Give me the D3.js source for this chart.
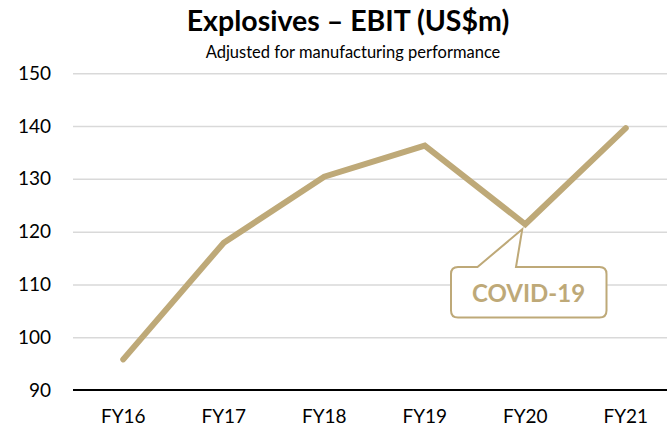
<!DOCTYPE html>
<html><head><meta charset="utf-8">
<script src="https://cdn.jsdelivr.net/npm/d3@7"></script>
<style>html,body{margin:0;padding:0;background:#fff;overflow:hidden}</style>
</head><body>
<script>
const categories = ["FY16","FY17","FY18","FY19","FY20","FY21"];
const ebit = [95.8, 117.9, 130.4, 136.3, 121.4, 139.6];
const yTicks = [90,100,110,120,130,140,150];
const titleText = "Explosives – EBIT (US$m)";
const subtitleText = "Adjusted for manufacturing performance";
const calloutText = "COVID-19";
const calloutCategory = "FY20";

const W = 667, H = 432;
const gold = "#bea978";
const font = "Lato, 'Open Sans', sans-serif";
const svg = d3.select("body").append("svg").attr("width", W).attr("height", H);

const x = d3.scaleBand().domain(categories).range([73, 676]);
const y = d3.scaleLinear().domain([90, 150]).range([390, 73.3]);

// gridlines
const grid = d3.axisLeft(y).tickValues(yTicks.filter(t => t !== 90)).tickSize(-(W - 73)).tickFormat("");
svg.append("g").attr("transform", "translate(73,0)").call(grid)
  .call(g => g.select(".domain").remove())
  .call(g => g.selectAll("line").attr("stroke", "#d9d9d9").attr("stroke-width", 1.5));

// y labels
const yAxis = d3.axisLeft(y).tickValues(yTicks).tickSize(0).tickPadding(22);
svg.append("g").attr("transform", "translate(73,0)").call(yAxis)
  .call(g => g.select(".domain").remove())
  .call(g => g.selectAll("text").attr("font-family", font).attr("font-size", 19).attr("fill", "#000"));

// x axis
const xAxis = d3.axisBottom(x).tickSize(0).tickPadding(20);
svg.append("g").attr("transform", "translate(0,390)").call(xAxis)
  .call(g => g.select(".domain").remove())
  .call(g => g.selectAll("text").attr("font-family", font).attr("font-size", 19).attr("fill", "#000"));
svg.append("line").attr("x1", 73).attr("x2", W).attr("y1", y(90)).attr("y2", y(90))
  .attr("stroke", "#000").attr("stroke-width", 2.2);

// line
const cx = c => x(c) + x.bandwidth() / 2;
const line = d3.line().x((d, i) => cx(categories[i])).y(d => y(d));
svg.append("path").datum(ebit).attr("d", line).attr("fill", "none")
  .attr("stroke", gold).attr("stroke-width", 6).attr("stroke-linecap", "round").attr("stroke-linejoin", "miter");

// callout
const ci = categories.indexOf(calloutCategory);
const tipX = cx(calloutCategory) - 3, tipY = y(ebit[ci]) + 5;
const bx0 = 451, bx1 = 606.5, by0 = 267, by1 = 317.5, r = 7;
const p0 = 477.5, p1 = 516;
const path = `M${bx0 + r},${by0} L${p0},${by0} L${tipX},${tipY} L${p1},${by0} L${bx1 - r},${by0}
 Q${bx1},${by0} ${bx1},${by0 + r} L${bx1},${by1 - r} Q${bx1},${by1} ${bx1 - r},${by1}
 L${bx0 + r},${by1} Q${bx0},${by1} ${bx0},${by1 - r} L${bx0},${by0 + r} Q${bx0},${by0} ${bx0 + r},${by0} Z`;
svg.append("path").attr("d", path).attr("fill", "#fff").attr("stroke", gold).attr("stroke-width", 2);
svg.append("text").attr("x", 528.5).attr("y", 302).attr("text-anchor", "middle")
  .attr("font-family", font).attr("font-weight", "bold").attr("font-size", 24).attr("fill", gold).text(calloutText);

// titles
svg.append("text").attr("x", 348).attr("y", 31).attr("text-anchor", "middle")
  .attr("font-family", font).attr("font-weight", "bold").attr("font-size", 28.5).attr("fill", "#000").text(titleText);
svg.append("text").attr("x", 353).attr("y", 58).attr("text-anchor", "middle")
  .attr("font-family", font).attr("font-size", 16.5).attr("fill", "#000").text(subtitleText);
</script>
</body></html>
